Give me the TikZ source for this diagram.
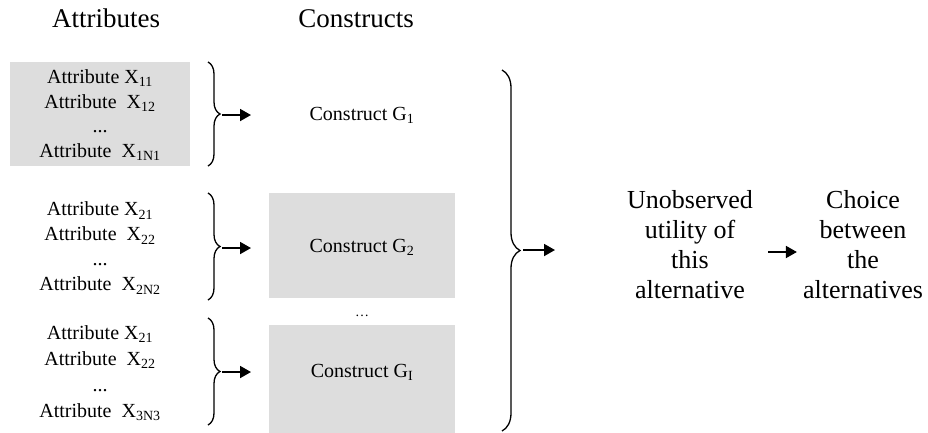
\documentclass[tikz,border=0pt]{standalone}
\usepackage{fontspec}
\setmainfont{Liberation Serif}
\usetikzlibrary{arrows.meta,decorations.pathreplacing}
\definecolor{boxgray}{RGB}{221,221,221}
\tikzset{
  titletext/.style={font=\fontsize{27}{30}\selectfont, inner sep=0pt, anchor=base},
  attrtext/.style={font=\fontsize{20}{25}\selectfont, align=center, inner sep=0pt},
  graybox/.style={fill=boxgray, draw=none},
  ctext/.style={font=\fontsize{20}{24}\selectfont, inner sep=0pt},
  righttext/.style={font=\fontsize{26}{30}\selectfont, align=center, inner sep=2pt},
  bracedeco/.style={decorate, decoration={brace, amplitude=#1}, line width=1.3pt},
  arr/.style={-{Triangle[length=11pt,width=12pt]}, line width=1.8pt},
}
\begin{document}
\begin{tikzpicture}[x=1pt,y=-1pt]
\useasboundingbox (0,0) rectangle (928,432);
% titles
\node[titletext] (tattr) at (106,27) {Attributes};
\node[titletext] (tcons) at (356,27) {Constructs};
% attribute groups
\node[graybox, minimum width=180pt, minimum height=104pt] (box1) at (100,114) {};
\node[attrtext, font=\fontsize{20}{24.5}\selectfont] (a1) at (100,115)
  {Attribute X\textsubscript{11}\\Attribute\ \ X\textsubscript{12}\\...\\Attribute\ \ X\textsubscript{1N1}};
\node[attrtext] (a2) at (100,248)
  {Attribute X\textsubscript{21}\\Attribute\ \ X\textsubscript{22}\\...\\Attribute\ \ X\textsubscript{2N2}};
\node[attrtext, font=\fontsize{20}{26}\selectfont] (a3) at (100,373)
  {Attribute X\textsubscript{21}\\Attribute\ \ X\textsubscript{22}\\...\\Attribute\ \ X\textsubscript{3N3}};
% braces
\coordinate (b1t) at (208,62);  \coordinate (b1b) at (208,166);
\coordinate (b2t) at (208,193); \coordinate (b2b) at (208,300);
\coordinate (b3t) at (208,318); \coordinate (b3b) at (208,425);
\draw[bracedeco=12pt] (b1t) -- (b1b);
\draw[bracedeco=12pt] (b2t) -- (b2b);
\draw[bracedeco=12pt] (b3t) -- (b3b);
\coordinate (p1s) at (222,115); \coordinate (p1e) at (251,115);
\coordinate (p2s) at (222,248); \coordinate (p2e) at (251,248);
\coordinate (p3s) at (222,372); \coordinate (p3e) at (251,372);
\draw[arr] (p1s) -- (p1e);
\draw[arr] (p2s) -- (p2e);
\draw[arr] (p3s) -- (p3e);
% constructs
\node[ctext] (g1) at (362,115) {Construct G\textsubscript{1}};
\node[graybox, minimum width=186pt, minimum height=105pt] (box2) at (362,245.5) {};
\node[ctext] (g2) at (362,247) {Construct G\textsubscript{2}};
\node[font=\fontsize{14}{14}\selectfont, inner sep=0pt] (gdots) at (362,316) {\ldots};
\node[graybox, minimum width=186pt, minimum height=108pt] (box3) at (362,379) {};
\node[ctext] (g3) at (362,372) {Construct G\textsubscript{I}};
% big brace
\coordinate (bbt) at (502,70); \coordinate (bbb) at (502,431);
\draw[bracedeco=18pt] (bbt) -- (bbb);
\coordinate (pbs) at (523,250); \coordinate (pbe) at (555,250);
\draw[arr] (pbs) -- (pbe);
% right texts
\node[righttext] (u) at (690,245) {Unobserved\\utility of\\this\\alternative};
\node[righttext] (c) at (863,245) {Choice\\between\\the\\alternatives};
\draw[arr, shorten <=13pt, shorten >=4pt] ([yshift=-7pt]u.east) -- ([yshift=-7pt]c.west);
\end{tikzpicture}
\end{document}
